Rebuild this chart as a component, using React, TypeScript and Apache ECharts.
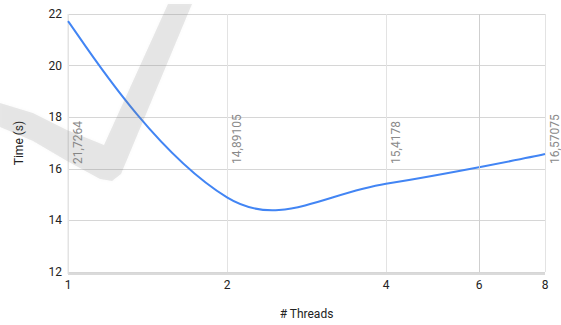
import React, { useEffect, useRef } from "react";
import * as echarts from "echarts";

// Thread counts and measured run times (seconds)
const threads = [1, 2, 4, 8];
const times = [21.7264, 14.89105, 15.4178, 16.57075];

// Axis ticks
const yTicks = [12, 14, 16, 18, 20, 22];
const extraThreadTick = 6;

// Height (in seconds) at which the rotated value labels start
const labelBaseY = 16.19;

const FONT = "Roboto, Arial, sans-serif";

const fmt = (v: number) => String(v).replace(".", ",");

// Smoothing parameters of the curve (horizontal / vertical handle scale, end handles)
const SMOOTH_X = 0.2;
const SMOOTH_Y = 0.24;
const SMOOTH_END = 0.44;

// Cubic spline through pixel points; handle lengths weighted by neighbour distance
function splinePath(pts: number[][]): string {
  const n = pts.length;
  const dist = (a: number[], b: number[]) => Math.hypot(b[0] - a[0], b[1] - a[1]);
  const before: number[][] = [];
  const after: number[][] = [];
  for (let i = 0; i < n; i++) {
    const p = pts[i];
    if (i === 0 || i === n - 1) {
      const q = i === 0 ? pts[1] : pts[n - 2];
      const h = [
        (q[0] - p[0]) * SMOOTH_X * SMOOTH_END,
        (q[1] - p[1]) * SMOOTH_Y * SMOOTH_END,
      ];
      before[i] = [p[0] + h[0], p[1] + h[1]];
      after[i] = [p[0] + h[0], p[1] + h[1]];
      continue;
    }
    const prev = pts[i - 1];
    const next = pts[i + 1];
    const t = [(next[0] - prev[0]) * SMOOTH_X, (next[1] - prev[1]) * SMOOTH_Y];
    const d1 = dist(prev, p);
    const d2 = dist(p, next);
    const wb = (2 * d1) / (d1 + d2);
    const wa = (2 * d2) / (d1 + d2);
    before[i] = [p[0] - t[0] * wb, p[1] - t[1] * wb];
    after[i] = [p[0] + t[0] * wa, p[1] + t[1] * wa];
  }
  let d = `M${pts[0][0]},${pts[0][1]}`;
  for (let i = 0; i < n - 1; i++) {
    const c1 = after[i];
    const c2 = before[i + 1];
    const p2 = pts[i + 1];
    d += ` C${c1[0]},${c1[1]} ${c2[0]},${c2[1]} ${p2[0]},${p2[1]}`;
  }
  return d;
}

export default function App() {
  const ref = useRef<HTMLDivElement>(null);

  useEffect(() => {
    if (!ref.current) return;
    const chart = echarts.init(ref.current, undefined, { renderer: "svg" });

    const option: echarts.EChartsOption = {
      animation: false,
      backgroundColor: "#ffffff",
      textStyle: { fontFamily: FONT },
      grid: { left: 68, right: 16, top: 14, bottom: 51 },
      xAxis: {
        type: "log",
        logBase: 2,
        min: 1,
        max: 8,
        name: "# Threads",
        nameLocation: "middle",
        nameGap: 36,
        nameTextStyle: { color: "#222", fontSize: 12, fontFamily: FONT },
        axisLine: { show: false },
        axisTick: { show: false },
        axisLabel: { color: "#222", fontSize: 12, margin: 7, fontFamily: FONT },
        splitLine: { show: true, lineStyle: { color: "#e3e3e3", width: 1 } },
      },
      yAxis: {
        type: "value",
        min: yTicks[0],
        max: yTicks[yTicks.length - 1],
        interval: 2,
        name: "Time (s)",
        nameLocation: "middle",
        nameGap: 43,
        nameTextStyle: { color: "#222", fontSize: 12, fontFamily: FONT },
        axisLine: { show: false },
        axisTick: { show: false },
        axisLabel: { color: "#222", fontSize: 12, margin: 6, fontFamily: FONT },
        splitLine: { show: true, lineStyle: { color: "#d6d6d6", width: 1 } },
      },
      series: [
        {
          type: "custom",
          coordinateSystem: "cartesian2d",
          data: threads.map((t, i) => [t, times[i]]),
          z: 3,
          renderItem: (params: any, api: any) => {
            if (params.dataIndex !== 0) return null;
            const pts = threads.map((t, i) => api.coord([t, times[i]]));
            return {
              type: "path",
              shape: { pathData: splinePath(pts) },
              style: { fill: "none", stroke: "#4285f4", lineWidth: 2 },
            };
          },
          markLine: {
            silent: true,
            symbol: "none",
            label: {
              show: true,
              position: "start",
              formatter: String(extraThreadTick),
              color: "#222",
              fontSize: 12,
              fontFamily: FONT,
              distance: 7,
            },
            lineStyle: { color: "#cfcfcf", type: "solid", width: 1 },
            data: [{ xAxis: extraThreadTick }],
          },
          markPoint: {
            silent: true,
            symbol: "circle",
            symbolSize: 0,
            label: {
              show: true,
              position: [10, 0],
              rotate: 90,
              align: "left",
              verticalAlign: "middle",
              color: "#8a8a8a",
              fontSize: 12,
              fontFamily: FONT,
            },
            data: threads.map((t, i) => ({
              coord: [t, labelBaseY],
              value: times[i],
              label: { formatter: fmt(times[i]) },
            })),
          },
        } as any,
      ],
      graphic: [
        // Bottom baseline and left edge of the plot
        {
          type: "line",
          shape: { x1: 68, y1: 274, x2: 545, y2: 274 },
          style: { stroke: "#dadada", lineWidth: 2 },
          z: 2,
        },
        {
          type: "line",
          shape: { x1: 68, y1: 14, x2: 68, y2: 274 },
          style: { stroke: "#e3e3e3", lineWidth: 1 },
          z: 2,
        },
        // Faint check-mark watermark
        {
          type: "polygon",
          silent: true,
          z: 10,
          shape: {
            points: [
              [168, 4],
              [192, 4],
              [121, 174],
              [112, 181],
              [100, 179],
              [67, 161],
              [33, 141],
              [0, 127],
              [0, 103],
              [33, 113],
              [67, 130],
              [104, 145],
            ],
          },
          style: {
            fill: "rgba(120,120,120,0.17)",
            shadowBlur: 3,
            shadowColor: "rgba(120,120,120,0.17)",
          },
        },
      ],
    };

    chart.setOption(option);
    return () => chart.dispose();
  }, []);

  return (
    <div
      ref={ref}
      style={{ position: "fixed", left: 0, top: 0, width: 561, height: 325 }}
    />
  );
}
